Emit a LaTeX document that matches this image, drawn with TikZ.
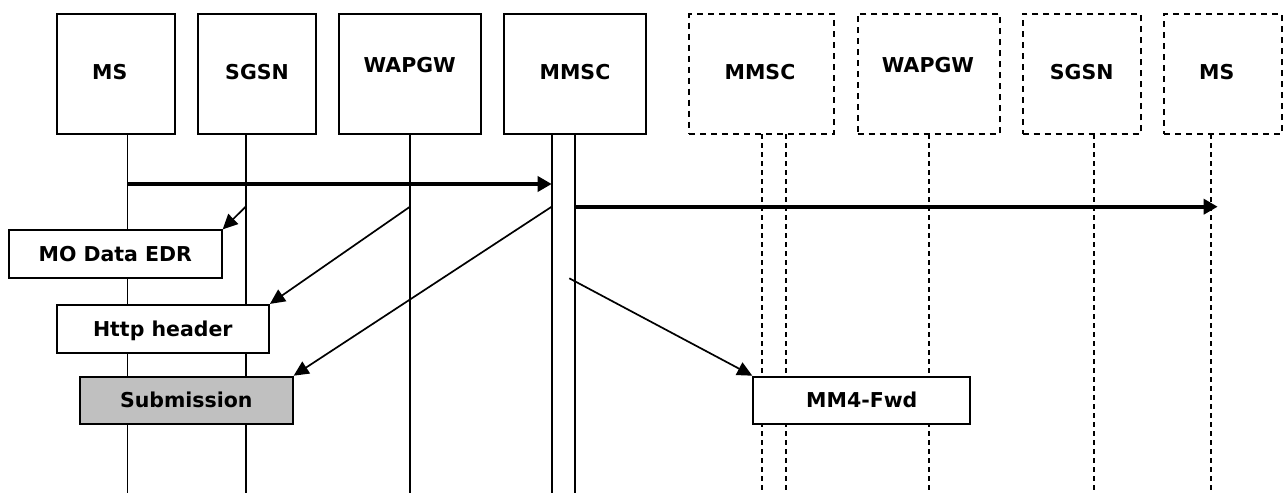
\documentclass[tikz,border=0pt]{standalone}
\usepackage{fontspec}
\setmainfont{DejaVu Sans}
\usetikzlibrary{arrows.meta}
\begin{document}
\begin{tikzpicture}[x=1pt,y=-1pt,
  every node/.style={inner sep=0pt, text height=14.9pt, text depth=0pt,
    font=\bfseries\fontsize{20.5}{24}\selectfont},
  actor/.style={draw, line width=2pt, minimum height=120pt},
  ghost/.style={draw, line width=1.8pt, dash pattern=on 6pt off 5pt, minimum height=120pt},
  record/.style={draw, fill=white, line width=2pt, minimum height=47.6pt},
  life/.style={line width=1.6pt},
  ghostlife/.style={line width=1.7pt, dash pattern=on 5pt off 4pt},
  msg/.style={line width=1.7pt, -{Triangle[length=15pt,width=14pt]}},
  bigmsg/.style={line width=3.8pt, -{Triangle[length=14pt,width=15pt]}},
]
\useasboundingbox (0,0) rectangle (1286,493);

% participant boxes, originating side
\node[actor, minimum width=118pt]   (ms)    at (115.7,74) {};
\node[actor, minimum width=118.3pt] (sgsn)  at (257.2,74) {};
\node[actor, minimum width=141.7pt] (wapgw) at (410.2,74) {};
\node[actor, minimum width=142pt]   (mmsc)  at (575,74)   {};
% participant boxes, receiving side
\node[ghost, minimum width=144.7pt] (mmscB)  at (761.7,74)  {};
\node[ghost, minimum width=142.3pt] (wapgwB) at (928.8,74)  {};
\node[ghost, minimum width=118.3pt] (sgsnB)  at (1081.8,74) {};
\node[ghost, minimum width=118pt]   (msB)    at (1223,74)   {};

% participant names
\node (ms-t)     at (109.7,72) {MS};
\node (sgsn-t)   at (257,72)   {SGSN};
\node (wapgw-t)  at (409.7,65) {WAPGW};
\node (mmsc-t)   at (575,72)   {MMSC};
\node (mmscB-t)  at (760,72)   {MMSC};
\node (wapgwB-t) at (928,65)   {WAPGW};
\node (sgsnB-t)  at (1081.7,72){SGSN};
\node (msB-t)    at (1216.8,72){MS};

% lifelines
\foreach \n/\x in {ms/127.3, sgsn/245.7, wapgw/410, mmscL/551.7, mmscR/575}{
  \coordinate (\n-top) at (\x,134);
  \coordinate (\n-bot) at (\x,493);
  \draw[life] (\n-top) -- (\n-bot);
}
\foreach \n/\x in {mmscBL/762, mmscBR/786, wapgwB/928.7, sgsnB/1093.7, msB/1211.3}{
  \coordinate (\n-top) at (\x,134);
  \coordinate (\n-bot) at (\x,493);
  \draw[ghostlife] (\n-top) -- (\n-bot);
}

% records
\node[record, minimum width=212.7pt] (mo)   at (115.3,254.2) {MO Data EDR};
\node[record, minimum width=212.3pt] (http) at (162.8,328.7) {Http header};
\node[record, minimum width=212.7pt, fill={rgb,255:red,192;green,192;blue,192}] (sub) at (186.3,400.5) {Submission};
\node[record, minimum width=217pt]   (fwd)  at (861.8,400.5) {MM4-Fwd};

% message end points
\coordinate (ms-a)    at (127.3,184);
\coordinate (mmscL-a) at (551.7,184);
\coordinate (mmscR-b) at (575,206.7);
\coordinate (msB-b)   at (1217.7,206.7);
\coordinate (sgsn-c)  at (245.7,206.7);
\coordinate (wapgw-c) at (410,206.7);
\coordinate (mmscL-c) at (551.7,206.7);
\coordinate (mmsc-d)  at (569.3,278.3);

% messages
\draw[bigmsg] (ms-a) -- (mmscL-a);
\draw[bigmsg] (mmscR-b) -- (msB-b);
\draw[msg] (sgsn-c)  -- (mo.north east);
\draw[msg] (wapgw-c) -- (http.north east);
\draw[msg] (mmscL-c) -- (sub.north east);
\draw[msg] (mmsc-d)  -- (fwd.north west);
\end{tikzpicture}
\end{document}
